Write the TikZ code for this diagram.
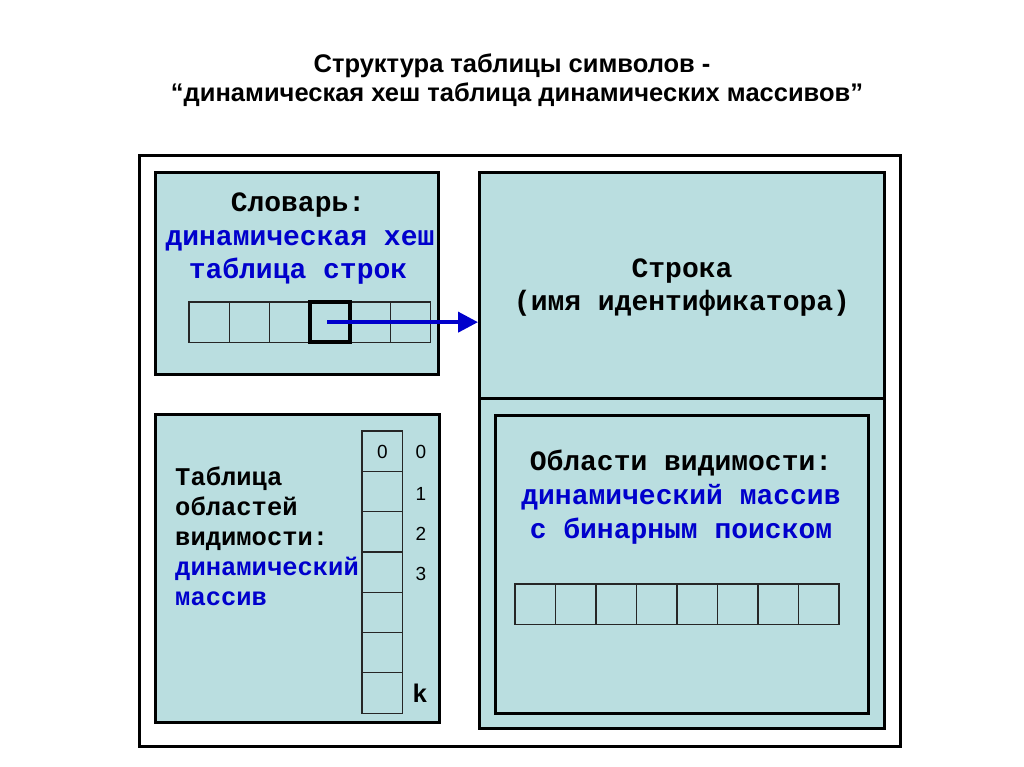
\documentclass[tikz,border=0pt]{standalone}
\usepackage{fontspec}
\setmainfont{Liberation Sans}
\newfontfamily\cour{Liberation Mono}
\usetikzlibrary{arrows.meta}
\definecolor{boxfill}{RGB}{186,222,224}
\definecolor{bluetxt}{RGB}{0,0,204}
\begin{document}
\begin{tikzpicture}[x=1pt,y=-1pt,
  frame/.style={draw=black,line width=3pt,inner sep=0pt,outer sep=0pt,anchor=north west},
  box/.style={frame,fill=boxfill},
  cell/.style={draw=black!85,line width=1.2pt,inner sep=0pt,outer sep=0pt,minimum width=40.3pt,minimum height=40.3pt,anchor=north west},
  hcell/.style={cell,draw=black,line width=4pt},
  big/.style={font=\cour\bfseries\fontsize{28}{33}\selectfont,inner sep=0pt,anchor=base},
  mid/.style={font=\cour\bfseries\fontsize{25.5}{30}\selectfont,inner sep=0pt,anchor=base west},
  num/.style={font=\fontsize{19}{22}\selectfont,inner sep=0pt,anchor=base},
  ttl/.style={font=\bfseries\fontsize{25.5}{30}\selectfont,inner sep=0pt,anchor=base},
  arr/.style={draw=bluetxt,line width=4pt,-{Triangle[length=20pt,width=20pt]}}
]
\useasboundingbox (0,0) rectangle (1024,767);
% title
\node[ttl] (title1) at (512,73) {Структура таблицы символов -};
\node[ttl] (title2) at (517,102) {“динамическая хеш таблица динамических массивов”};
% outer frame
\node[frame,fill=white,minimum width=761pt,minimum height=590pt] (outer) at (139,156) {};
% dictionary box
\node[box,minimum width=283pt,minimum height=201pt] (dict) at (155,173) {};
\node[big] (d1) at (298,212) {Словарь:};
\node[big,text=bluetxt] (d2) at (300,245) {динамическая хеш};
\node[big,text=bluetxt] (d3) at (298,278) {таблица строк};
\foreach \i in {0,...,5}{
  \node[cell] (dc\i) at ({189+40.3*\i},302) {};
}
\node[hcell] (dsel) at ({189+40.3*3},302) {};
% string box
\node[box,minimum width=405pt,minimum height=225pt] (str) at (479,173) {};
\node[big] (s1) at (682,277) {Строка};
\node[big] (s2) at (682,310) {(имя идентификатора)};
% scopes outer box
\node[box,minimum width=405pt,minimum height=330pt] (scouter) at (479,398) {};
\node[frame,fill=boxfill,minimum width=373pt,minimum height=298pt] (scinner) at (495,415) {};
\node[big] (r1) at (681,470) {Области видимости:};
\node[big,text=bluetxt] (r2) at (681,504) {динамический массив};
\node[big,text=bluetxt] (r3) at (681,538) {с бинарным поиском};
\foreach \i in {0,...,7}{
  \node[cell,minimum width=40.5pt] (rc\i) at ({515+40.5*\i},584) {};
}
% scope table box
\node[box,minimum width=284pt,minimum height=308pt] (tab) at (155,414) {};
\node[mid] (l1) at (175,485) {Таблица};
\node[mid] (l2) at (175,515) {областей};
\node[mid] (l3) at (175,545) {видимости:};
\node[mid,text=bluetxt] (l4) at (175,575) {динамический};
\node[mid,text=bluetxt] (l5) at (175,605) {массив};
\foreach \i in {0,...,6}{
  \node[cell] (vc\i) at (362,{431+40.3*\i}) {};
}
\node[num] (v0) at (382.5,458) {0};
\node[num] (i0) at (421,458) {0};
\node[num] (i1) at (421,500) {1};
\node[num] (i2) at (421,540) {2};
\node[num] (i3) at (421,580) {3};
\node[font=\cour\bfseries\fontsize{25.5}{30}\selectfont,inner sep=0pt,anchor=base] (ik) at (420,702) {k};
% arrow
\draw[arr] ([xshift=-3pt]dsel.center) -- ([xshift=-1pt]dsel.center -| str.west);
\end{tikzpicture}
\end{document}
